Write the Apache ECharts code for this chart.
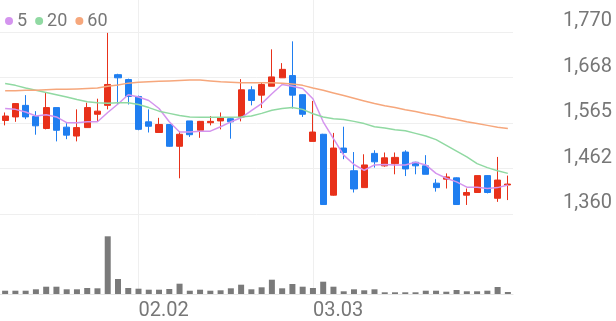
<!DOCTYPE html>
<html>
<head>
<meta charset="utf-8">
<script src="https://cdn.jsdelivr.net/npm/echarts@6/dist/echarts.min.js"></script>
<style>
html,body{margin:0;padding:0;background:#fff;}
#c{width:616px;height:321px;}
</style>
</head>
<body>
<div id="c"></div>
<script>
var dates = ['01.13','01.16','01.17','01.18','01.19','01.20','01.24','01.25','01.26','01.27','01.30','01.31','02.01',
  '02.02','02.03','02.06','02.07','02.08','02.09','02.10','02.13','02.14','02.15','02.16','02.17','02.20','02.21','02.22','02.23','02.24',
  '03.03','03.06','03.07','03.08','03.09','03.10','03.13','03.14','03.15','03.16','03.17','03.20','03.21','03.22','03.23','03.24','03.27','03.28','03.29','03.30'];
var labelDates = ['02.02','03.03'];
var opens  = [1571,1579,1605,1580,1553,1600,1556,1536,1555,1585,1605,1674,1663,1625,1568,1544,1562,1513,1570,1549,1566,1570,1575,1579,1640,1628,1648,1667,1672,1629,1524,1540,1403,1509,1458,1420,1497,1469,1474,1500,1477,1469,1430,1439,1442,1403,1409,1447,1396,1426];
var closes = [1581,1609,1579,1559,1600,1549,1538,1555,1600,1592,1652,1667,1625,1551,1558,1562,1513,1540,1539,1569,1569,1577,1568,1640,1616,1652,1669,1686,1628,1585,1545,1382,1509,1499,1417,1471,1478,1487,1488,1462,1469,1450,1420,1444,1382,1409,1447,1409,1437,1428];
var lows   = [1560,1568,1574,1539,1551,1524,1529,1524,1555,1568,1596,1607,1607,1549,1544,1544,1512,1441,1534,1532,1560,1551,1530,1569,1605,1599,1648,1667,1598,1579,1524,1382,1402,1484,1409,1420,1465,1467,1450,1446,1450,1450,1411,1418,1381,1381,1408,1407,1388,1392];
var highs  = [1589,1610,1628,1592,1633,1600,1565,1596,1611,1620,1768,1676,1665,1627,1596,1577,1563,1547,1570,1570,1581,1589,1576,1664,1648,1656,1731,1700,1749,1630,1615,1541,1543,1557,1500,1495,1504,1499,1499,1504,1478,1493,1439,1452,1443,1418,1447,1448,1489,1447];
var volumes = [33,33,33,47,73,73,47,47,60,57,577,150,60,53,43,43,50,103,33,43,33,37,57,93,47,67,143,57,100,73,60,123,73,27,47,37,47,17,17,17,17,33,33,23,40,27,27,33,70,20];
var ma5  = [1598,1596,1590,1581,1584,1579,1566,1566,1568,1568,1589,1608,1629,1624,1616,1598,1568,1545,1545,1547,1547,1557,1568,1577,1593,1609,1631,1652,1648,1643,1620,1568,1530,1493,1472,1459,1471,1472,1471,1471,1477,1471,1452,1441,1433,1421,1421,1418,1420,1426];
var ma20 = [1654,1650,1644,1639,1634,1629,1624,1618,1613,1611,1610,1611,1611,1607,1600,1592,1587,1582,1579,1578,1578,1578,1578,1579,1581,1587,1594,1598,1600,1596,1586,1579,1575,1573,1569,1564,1557,1554,1550,1548,1542,1536,1528,1515,1502,1489,1474,1465,1458,1452];
var ma60 = [1638,1638,1639,1639,1640,1641,1641,1642,1643,1644,1648,1651,1655,1657,1658,1659,1660,1661,1662,1662,1660,1658,1657,1656,1656,1656,1656,1655,1653,1650,1644,1639,1633,1627,1621,1615,1609,1604,1600,1595,1591,1586,1582,1577,1573,1568,1564,1560,1556,1553];
var priceTicks = ['1,360','1,462','1,565','1,668','1,770'];
var priceMin = 1360, priceMax = 1770;

var candleData = opens.map(function(o, i){ return [o, closes[i], lows[i], highs[i]]; });
var UP = '#e8311a', DOWN = '#1f7ef0';
var GRID_LINE = '#efefef';
var TEXT = '#777777';
var FONT = 'Roboto, "Noto Sans", sans-serif';

var chart = echarts.init(document.getElementById('c'), null, {renderer:'canvas'});
chart.setOption({
  animation: false,
  backgroundColor: '#ffffff',
  legend: {
    left: 0, top: 7, icon: 'circle', itemWidth: 8, itemHeight: 8, itemGap: 8,
    textStyle: {color: TEXT, fontSize: 18, fontFamily: FONT, padding: [0,0,0,-1]},
    data: ['5','20','60']
  },
  grid: [
    {left: 0, right: 103, top: 32, height: 182.3},
    {left: 0, right: 103, top: 230, height: 64},
    {left: 5.13, right: 108.1, top: 0, height: 294}
  ],
  xAxis: [
    {type: 'category', gridIndex: 0, data: dates, boundaryGap: true,
     axisLine: {show: false}, axisTick: {show: false}, axisLabel: {show: false}, splitLine: {show: false}},
    {type: 'category', gridIndex: 1, data: dates, boundaryGap: true,
     axisLine: {show: true, lineStyle: {color: '#e6e6e6', width: 1}}, axisTick: {show: false}, axisLabel: {show: false}, splitLine: {show: false}},
    {type: 'category', gridIndex: 2, data: dates, boundaryGap: false,
     axisLine: {show: false}, axisTick: {show: false},
     axisLabel: {show: true, color: TEXT, fontSize: 20, fontFamily: FONT, align: 'left', margin: 8,
       interval: function(i, v){ return labelDates.indexOf(v) >= 0; }},
     splitLine: {show: true, lineStyle: {color: GRID_LINE, width: 1},
       interval: function(i, v){ return labelDates.indexOf(v) >= 0; }}}
  ],
  yAxis: [
    {type: 'value', gridIndex: 0, min: priceMin, max: priceMax, show: false, splitLine: {show: false}},
    {type: 'value', gridIndex: 0, min: 0, max: 4, interval: 1, position: 'right',
     axisLine: {show: false}, axisTick: {show: false},
     splitLine: {show: true, lineStyle: {color: GRID_LINE, width: 1}},
     axisLabel: {show: true, color: TEXT, fontSize: 20, fontFamily: FONT, align: 'right', margin: 99,
       verticalAlign: 'bottom', lineHeight: 20, padding: [0,0,1,0],
       formatter: function(v){ return priceTicks[v] || ''; }}},
    {type: 'value', gridIndex: 1, min: 0, max: 640, show: false, splitLine: {show: false}},
    {type: 'value', gridIndex: 2, min: 0, max: 1, show: false, splitLine: {show: false}}
  ],
  series: [
    {name: '5', type: 'line', xAxisIndex: 0, yAxisIndex: 0, data: ma5, symbol: 'none', color: '#d494ee',
     lineStyle: {width: 1.5, color: '#d494ee'}},
    {name: '20', type: 'line', xAxisIndex: 0, yAxisIndex: 0, data: ma20, symbol: 'none', color: '#90d9a2',
     lineStyle: {width: 1.5, color: '#90d9a2'}},
    {name: '60', type: 'line', xAxisIndex: 0, yAxisIndex: 0, data: ma60, symbol: 'none', color: '#f6a77c',
     lineStyle: {width: 1.5, color: '#f6a77c'}},
    {name: 'K', type: 'candlestick', xAxisIndex: 0, yAxisIndex: 0, data: candleData, barWidth: '64%',
     itemStyle: {color: UP, color0: DOWN, borderColor: UP, borderColor0: DOWN, borderWidth: 1}},
    {name: 'V', type: 'bar', xAxisIndex: 1, yAxisIndex: 2, data: volumes, barWidth: 6,
     itemStyle: {color: '#7a7a7a'}}
  ]
});
</script>
</body>
</html>
